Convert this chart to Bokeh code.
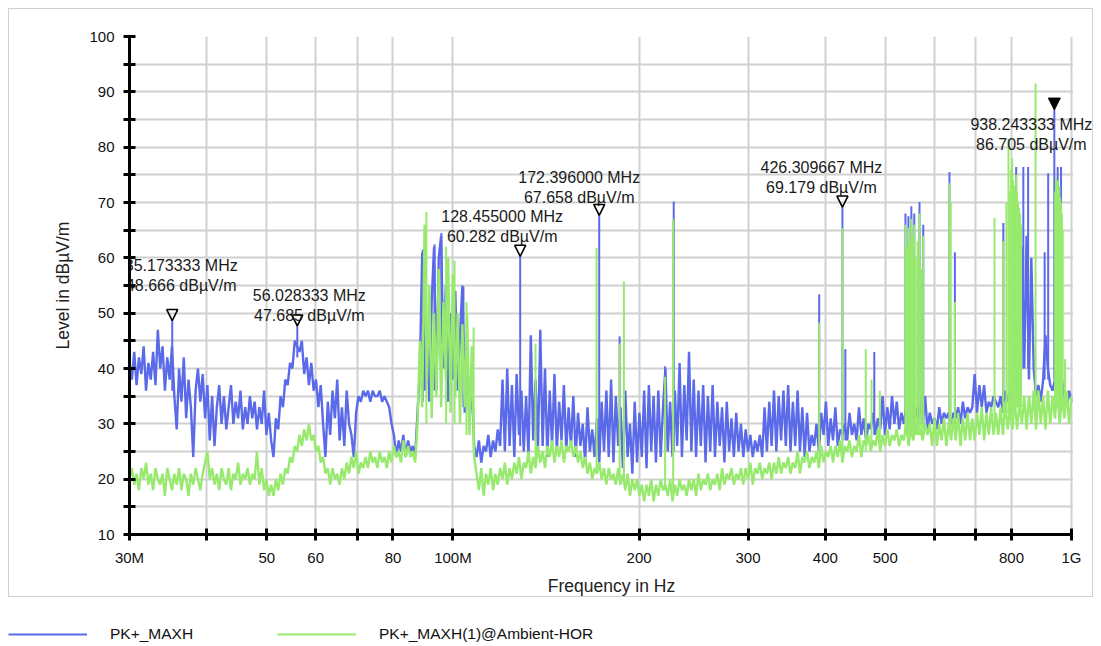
import numpy as np
from bokeh.plotting import figure
from bokeh.models import (Range1d, FixedTicker, ColumnDataSource, Arrow, NormalHead,
                          Label, Legend, LegendItem, BoxAnnotation)
from bokeh.layouts import column
from bokeh.embed import file_html
from bokeh.resources import INLINE

# ---------------- data (MHz / dBuV/m) ----------------
F_START, F_STOP = 30.0, 1000.0

# PK+_MAXH sweep levels (log-spaced sweep points 30 MHz .. 1 GHz)
pk_maxh = [
    41, 38, 43, 37, 42, 39, 44, 36, 41, 38,
    43, 37, 47, 40, 44, 36, 42, 38, 44, 35,
    29, 40, 34, 42, 31, 38, 33, 24, 36, 40,
    34, 39, 31, 37, 27, 35, 26, 33, 37, 30,
    35, 29, 33, 37, 30, 34, 31, 36, 29, 33,
    30, 35, 31, 34, 29, 33, 30, 36, 28, 32,
    27, 24, 31, 29, 35, 33, 38, 37, 41, 40,
    45, 44, 43, 45, 39, 42, 37, 41, 36, 38,
    33, 37, 30, 24, 34, 28, 36, 31, 38, 27,
    33, 26, 36, 30, 28, 24, 32, 35, 34, 36,
    35, 36, 34, 36, 35, 35, 36, 34, 35, 34,
    33, 30, 28, 24, 27, 25, 28, 24, 27, 25,
    26, 24, 32, 40, 61, 36, 48, 34, 52, 62,
    36, 60, 64, 40, 55, 34, 50, 38, 54, 36,
    46, 55, 32, 44, 30, 38, 26, 24, 27, 23,
    26, 25, 28, 24, 27, 25, 29, 26, 38, 25,
    40, 26, 37, 24, 39, 28, 36, 25, 35, 24,
    46, 27, 38, 25, 47, 26, 40, 24, 36, 26,
    39, 25, 34, 27, 37, 25, 33, 26, 35, 24,
    32, 26, 30, 23, 33, 25, 29, 24, 31, 23,
    34, 25, 36, 24, 38, 23, 35, 26, 33, 22,
    36, 24, 30, 21, 34, 23, 32, 24, 36, 22,
    37, 25, 35, 23, 36, 24, 33, 40, 25, 34,
    24, 36, 26, 41, 24, 37, 27, 43, 25, 38,
    24, 36, 26, 37, 23, 35, 25, 37, 24, 34,
    26, 33, 23, 34, 25, 31, 24, 32, 25, 30,
    24, 29, 25, 28, 24, 27, 25, 28, 24, 33,
    25, 34, 26, 36, 25, 35, 27, 36, 26, 37,
    25, 34, 26, 36, 25, 33, 24, 32, 25, 28,
    26, 30, 25, 32, 28, 34, 26, 31, 27, 33,
    26, 29, 28, 30, 27, 32, 28, 30, 27, 33,
    28, 31, 27, 30, 29, 32, 28, 31, 29, 35,
    28, 33, 29, 35, 30, 34, 29, 32, 30, 33,
    29, 32, 30, 33, 31, 34, 30, 35, 29, 32,
    30, 31, 29, 33, 30, 32, 31, 32, 30, 32,
    31, 33, 30, 34, 31, 33, 32, 33, 39, 32,
    37, 33, 37, 32, 34, 33, 35, 34, 33, 35,
    32, 36, 34, 36, 33, 37, 34, 40, 62, 40,
    64, 38, 60, 40, 35, 37, 34, 38, 46, 40,
    37, 36, 38, 37, 36, 38, 35, 33, 36, 34,
]

# PK+_MAXH(1)@Ambient-HOR sweep levels
ambient = [
    20, 22, 19, 21, 18, 22, 20, 23, 19, 21,
    18, 22, 20, 19, 21, 17, 22, 20, 18, 21,
    19, 22, 18, 21, 20, 17, 21, 19, 22, 20,
    18, 21, 23, 25, 20, 22, 19, 21, 18, 22,
    20, 19, 22, 18, 21, 20, 23, 19, 21, 20,
    22, 19, 21, 20, 25, 19, 22, 18, 20, 17,
    19, 17, 20, 18, 21, 19, 22, 21, 24, 23,
    26, 25, 28, 26, 29, 27, 30, 27, 28, 25,
    26, 23, 24, 21, 22, 19, 22, 20, 21, 19,
    22, 20, 23, 21, 24, 22, 25, 21, 23, 22,
    24, 22, 25, 23, 24, 22, 25, 23, 24, 22,
    25, 23, 26, 24, 25, 23, 27, 24, 26, 24,
    25, 23, 30, 45, 33, 66, 38, 55, 31, 50,
    35, 58, 33, 52, 38, 60, 32, 57, 35, 50,
    30, 48, 33, 50, 28, 44, 24, 21, 18, 22,
    17, 21, 19, 22, 18, 21, 19, 22, 20, 23,
    19, 22, 20, 23, 21, 24, 20, 23, 22, 25,
    21, 24, 22, 26, 23, 25, 22, 26, 24, 27,
    23, 26, 24, 27, 23, 26, 25, 27, 24, 26,
    23, 25, 22, 24, 21, 23, 20, 22, 21, 23,
    20, 22, 19, 22, 20, 21, 19, 22, 19, 21,
    18, 21, 17, 20, 18, 20, 17, 19, 16, 19,
    17, 20, 16, 19, 17, 20, 18, 19, 17, 20,
    16, 19, 17, 20, 18, 19, 17, 20, 18, 20,
    17, 21, 18, 20, 19, 21, 18, 20, 19, 21,
    18, 22, 19, 21, 20, 22, 19, 21, 20, 22,
    19, 22, 20, 23, 19, 22, 21, 23, 20, 22,
    21, 23, 20, 23, 21, 24, 21, 23, 22, 24,
    21, 23, 22, 25, 21, 24, 23, 25, 22, 24,
    23, 25, 22, 26, 23, 25, 24, 26, 23, 26,
    24, 27, 23, 26, 25, 27, 24, 26, 25, 28,
    24, 27, 26, 28, 25, 27, 26, 29, 25, 28,
    26, 29, 26, 28, 27, 29, 26, 28, 27, 30,
    26, 29, 27, 30, 28, 29, 27, 30, 28, 30,
    26, 31, 26, 30, 27, 31, 26, 30, 27, 31,
    27, 32, 26, 31, 27, 32, 27, 31, 27, 32,
    28, 33, 27, 32, 28, 33, 28, 32, 28, 33,
    28, 34, 29, 33, 29, 34, 29, 34, 30, 35,
    29, 35, 30, 36, 29, 36, 30, 35, 29, 36,
    30, 35, 31, 36, 30, 35, 31, 36, 30, 35,
]

# narrow emissions (frequency MHz, base level, peak level)
pk_spike_mhz = [35.173333, 56.028333, 89.4, 93.4, 95.8, 104.0, 128.455, 172.396, 186.0,
                220.3, 227.5, 391.0, 426.309667, 431.0, 480.0, 539.0, 545.0, 551.0, 557.0,
                568.0, 576.0, 635.0, 648.0, 776.0, 814.0, 836.0, 851.0, 905.0, 917.0,
                938.243333, 950.0, 962.0]
pk_spike_base = [36, 42, 34, 36, 38, 33, 26, 25, 27, 25, 25, 27, 27, 27, 28, 30, 30, 30, 30,
                 30, 30, 30, 30, 32, 40, 40, 40, 38, 38, 38, 38, 38]
pk_spike_peak = [48.666, 47.685, 61.5, 62.4, 64.5, 54.8, 60.282, 67.658, 45.8, 40.4, 70.2,
                 53.4, 69.179, 43.5, 43.0, 68.0, 67.5, 69.3, 68.0, 70.1, 66.0, 75.5, 61.0,
                 66.3, 76.4, 76.4, 76.4, 61.0, 75.3, 86.705, 76.4, 76.4]

amb_spike_mhz = [90.6, 97.5, 100.6, 105.2, 108.0, 136.0, 170.7, 186.0, 189.0, 220.3, 227.0,
                 391.0, 426.309667, 465.0, 475.0, 490.0,
                 539.0, 542.0, 545.0, 548.0, 551.0, 554.0, 557.0, 560.0, 564.0, 568.0,
                 572.0, 576.0,
                 635.0, 638.0, 648.0, 751.0, 776.0,
                 785.0, 791.0, 796.0, 799.0, 802.0, 805.0, 808.0, 811.0, 814.0, 817.0,
                 820.0, 823.0, 826.0, 829.0,
                 875.0, 941.0, 944.0, 947.0, 950.0, 953.0, 956.0, 959.0, 962.0, 965.0,
                 968.0, 976.0]
amb_spike_base = [30, 30, 30, 28, 25, 23, 21, 20, 20, 18, 18, 23, 24, 25, 26, 26,
                  28, 28, 28, 28, 28, 28, 28, 28, 28, 28,
                  28, 28,
                  29, 29, 29, 31, 32,
                  32, 32, 32, 32, 32, 32, 32, 32, 33, 33,
                  33, 33, 33, 33,
                  33, 33, 33, 33, 33, 33, 33, 33, 33, 33,
                  33, 33]
amb_spike_peak = [68.3, 62.0, 59.5, 52.0, 47.4, 44.5, 61.8, 44.5, 55.7, 38.5, 67.0, 48.3,
                  65.4, 43.5, 38.0, 36.0,
                  66.0, 62.0, 65.5, 63.0, 67.0, 64.0, 66.0, 60.0, 63.0, 68.0,
                  58.0, 64.0,
                  73.5, 70.0, 52.0, 67.2, 63.0,
                  70.0, 81.5, 72.0, 76.0, 78.0, 74.0, 73.0, 71.0, 75.0, 72.0,
                  70.0, 69.0, 68.0, 66.0,
                  91.5, 72.0, 74.5, 73.0, 74.0, 72.0, 73.0, 71.0, 70.0, 68.0,
                  65.0, 41.7]

# markers
marker_mhz = [35.173333, 56.028333, 128.455, 172.396, 426.309667, 938.243333]
marker_level = [48.666, 47.685, 60.282, 67.658, 69.179, 86.705]

x_ticks = [30, 40, 50, 60, 70, 80, 100, 200, 300, 400, 500, 600, 700, 800, 1000]
x_tick_labels = ["30M", "", "50", "60", "", "80", "100M", "200", "300", "400", "500",
                 "", "", "800", "1G"]

series_names = ["PK+_MAXH", "PK+_MAXH(1)@Ambient-HOR"]

# ---------------- styling ----------------
BLUE = "#5a6ae8"
GREEN = "#97ea6d"
FONT = "Liberation Sans"
GRID = "#d0d0d0"

# label placement (screen px) relative to each marker
label_dx = [9, 12, -18, -20, -21, -23]
label_dy2 = [35, 10, 20, 18, 20, -34]
label_dy1 = [d + 20 for d in label_dy2]

# layout: the frame runs a little past 1 GHz so marker text is not cut
AXIS_PX = 940       # pixel length of 30 MHz .. 1 GHz
EXTRA_PX = 22       # free frame space right of 1 GHz
x_hi = F_STOP * (F_STOP / F_START) ** (EXTRA_PX / AXIS_PX)
x_cover = F_STOP * (F_STOP / F_START) ** (1.5 / AXIS_PX)

sweep_mhz = np.geomspace(F_START, F_STOP, len(pk_maxh))

p = figure(width=1085, height=589, x_axis_type="log",
           x_range=Range1d(F_START, x_hi), y_range=Range1d(10, 100),
           output_backend="svg", toolbar_location=None,
           min_border_left=120, min_border_right=23 - EXTRA_PX, min_border_top=27,
           min_border_bottom=60, frame_align=False,
           x_axis_label="Frequency in Hz", y_axis_label="Level in dB\u00b5V/m",
           styles={"border": "1px solid #cfcfcf"})
p.outline_line_color = None

p.xgrid.ticker = FixedTicker(ticks=x_ticks)
p.ygrid.ticker = FixedTicker(ticks=list(range(10, 101, 5)))
p.grid.grid_line_color = GRID
p.grid.grid_line_width = 2
# hide the grid beyond 1 GHz
p.add_layout(BoxAnnotation(left=x_cover, fill_color="white", fill_alpha=1.0,
                           line_color=None, level="underlay"))

p.xaxis.ticker = FixedTicker(ticks=x_ticks)
p.xaxis.bounds = (F_START, F_STOP)
p.xaxis.major_label_overrides = {t: l for t, l in zip(x_ticks, x_tick_labels)}
p.yaxis.ticker = FixedTicker(ticks=list(range(10, 101, 10)),
                             minor_ticks=list(range(15, 100, 10)))
for ax in (p.xaxis[0], p.yaxis[0]):
    ax.axis_line_width = 3
    ax.axis_line_color = "black"
    ax.major_tick_line_width = 3
    ax.major_tick_in = 6
    ax.major_tick_out = 6
    ax.major_label_text_font = FONT
    ax.major_label_text_font_size = "15px"
    ax.major_label_text_color = "#111111"
    ax.axis_label_text_font = FONT
    ax.axis_label_text_font_size = "17.5px"
    ax.axis_label_text_font_style = "normal"
    ax.axis_label_text_color = "#222222"
p.xaxis.minor_tick_line_color = None
p.yaxis.minor_tick_line_width = 3
p.yaxis.minor_tick_in = 6
p.yaxis.minor_tick_out = 6
p.yaxis.minor_tick_line_color = "black"
p.xaxis.major_label_standoff = 8
p.xaxis.axis_label_standoff = 7
p.yaxis.major_label_standoff = 9
p.yaxis.axis_label_standoff = 13

# traces: DUT first, ambient drawn over it
p.line(sweep_mhz, pk_maxh, line_color=BLUE, line_width=2.4)
p.segment(x0=pk_spike_mhz, y0=pk_spike_base, x1=pk_spike_mhz, y1=pk_spike_peak,
          line_color=BLUE, line_width=2.0)
p.line(sweep_mhz, ambient, line_color=GREEN, line_width=2.4)
p.segment(x0=amb_spike_mhz, y0=amb_spike_base, x1=amb_spike_mhz, y1=amb_spike_peak,
          line_color=GREEN, line_width=2.0)

# markers (triangle tip on the measured value)
top = int(np.argmax(marker_level))
open_idx = [i for i in range(len(marker_mhz)) if i != top]
src_open = ColumnDataSource(dict(
    x0=[marker_mhz[i] for i in open_idx], y0=[marker_level[i] + 2 for i in open_idx],
    x1=[marker_mhz[i] for i in open_idx], y1=[marker_level[i] for i in open_idx]))
src_fill = ColumnDataSource(dict(
    x0=[marker_mhz[top]], y0=[marker_level[top] + 2],
    x1=[marker_mhz[top]], y1=[marker_level[top]]))
p.add_layout(Arrow(end=NormalHead(size=11, line_color="black", line_width=1.6,
                                  fill_color=None),
                   x_start="x0", y_start="y0", x_end="x1", y_end="y1",
                   source=src_open, line_color=None))
p.add_layout(Arrow(end=NormalHead(size=12, line_color="black", line_width=1,
                                  fill_color="black"),
                   x_start="x0", y_start="y0", x_end="x1", y_end="y1",
                   source=src_fill, line_color=None))

for f, v, dx, dy1, dy2 in zip(marker_mhz, marker_level, label_dx, label_dy1, label_dy2):
    for txt, dy in ((f"{f:.6f} MHz", dy1), (f"{v:.3f} dB\u00b5V/m", dy2)):
        p.add_layout(Label(x=f, y=v, text=txt, x_offset=dx, y_offset=dy,
                           text_align="center", text_baseline="middle",
                           text_font=FONT, text_font_size="16px",
                           text_color="#1a1a1a"))

# legend strip below the bordered chart
lg = figure(width=1085, height=46, output_backend="svg", toolbar_location=None,
            x_range=Range1d(0, 1), y_range=Range1d(0, 1), frame_align=False,
            x_axis_location=None, y_axis_location=None, min_border=0)
lg.grid.visible = False
lg.outline_line_color = None
# same series, drawn outside this strip's visible range: only the legend shows
r1 = lg.line(sweep_mhz, pk_maxh, line_color=BLUE, line_width=2)
r2 = lg.line(sweep_mhz, ambient, line_color=GREEN, line_width=2)
legend = Legend(items=[LegendItem(label=series_names[0], renderers=[r1]),
                       LegendItem(label=series_names[1], renderers=[r2])],
                orientation="horizontal", location=(0, 0),
                glyph_width=79, glyph_height=16, label_height=16,
                label_standoff=23, label_width=148, spacing=19,
                padding=0, margin=0, border_line_color=None,
                background_fill_alpha=0,
                label_text_font=FONT, label_text_font_size="15.5px",
                label_text_color="#111111")
lg.add_layout(legend)

layout = column(p, lg, margin=(8, 0, 0, 8))
open("out.html", "w").write(file_html(layout, INLINE))
